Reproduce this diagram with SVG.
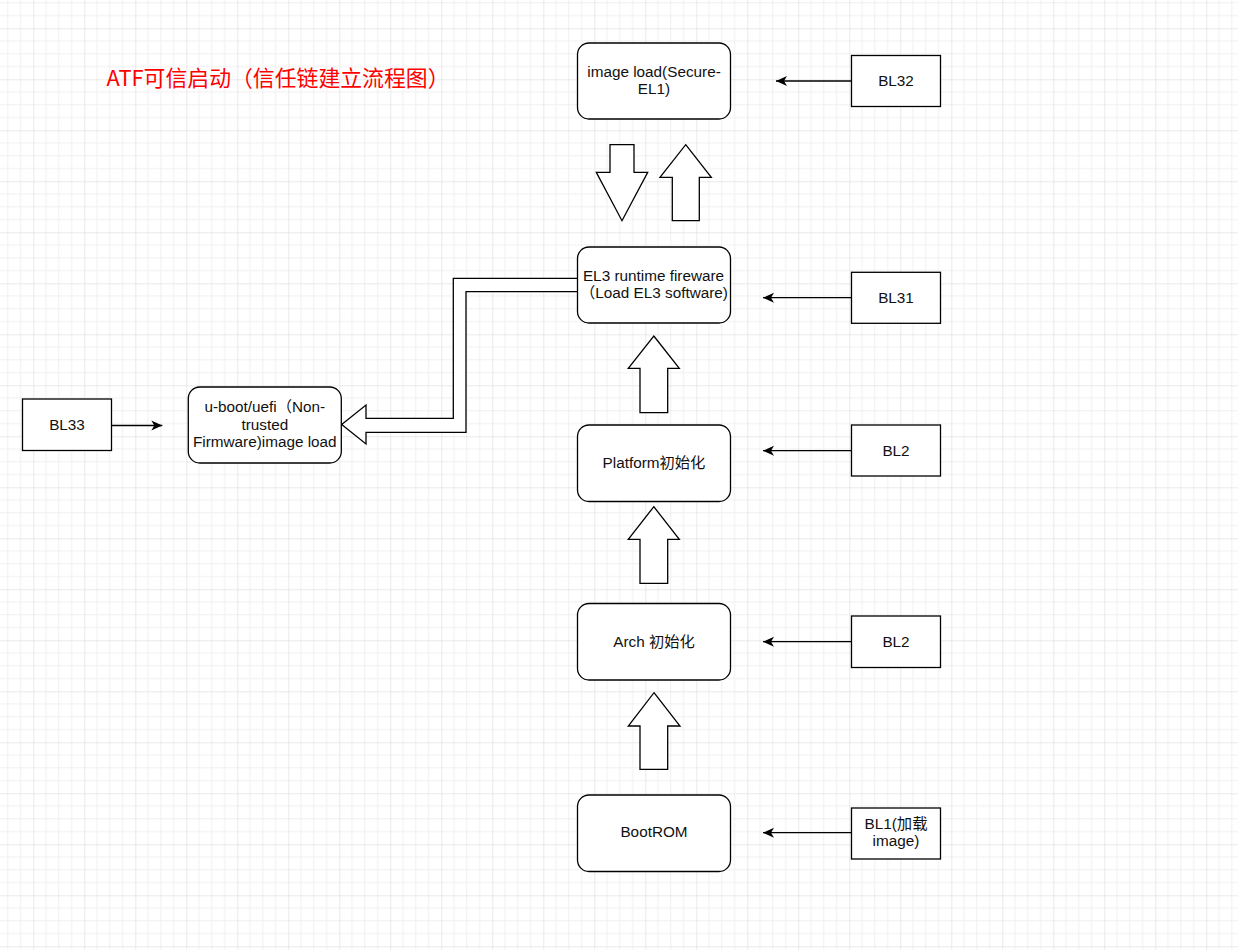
<svg xmlns="http://www.w3.org/2000/svg" width="1238" height="950" viewBox="0 0 1238 950">
  <style>
    .node { fill: #ffffff; stroke: #000000; stroke-width: 1.3; }
    .box { fill: #ffffff; stroke: #000000; stroke-width: 1.3; }
    .blk { fill: #ffffff; stroke: #000000; stroke-width: 1.3; stroke-linejoin: miter; }
    .edge { fill: none; stroke: #000000; stroke-width: 1.3; }
    .t { font-family: "Liberation Sans", "Noto Sans CJK SC", Arial, sans-serif; font-size: 15.3px; fill: #111111; text-anchor: middle; }
    .title { font-family: "Noto Sans CJK SC", "Liberation Sans", sans-serif; font-size: 22px; fill: #ff0000; }
  </style>
  <defs>
    <pattern id="grid" patternUnits="userSpaceOnUse" x="33.3" y="28.3" width="51" height="51">
      <path d="M12.75 0V51M25.5 0V51M38.25 0V51M0 12.75H51M0 25.5H51M0 38.25H51" stroke="#f0f0f0" stroke-width="1" fill="none"/>
      <path d="M0 0V51M0 0H51" stroke="#d6d6d6" stroke-width="1" fill="none"/>
    </pattern>
    <marker id="arr" markerWidth="12" markerHeight="11" refX="11" refY="5.5" orient="auto" markerUnits="userSpaceOnUse">
      <path d="M0 0.5 L11 5.5 L0 10.5 L3 5.5 Z" fill="#000000"/>
    </marker>
  </defs>
  <rect x="0" y="0" width="1238" height="950" fill="#ffffff"/>
  <rect x="0" y="0" width="1238" height="950" fill="url(#grid)"/>

  <g id="title">
    <text class="title" x="106.5" y="86" textLength="343" lengthAdjust="spacingAndGlyphs">ATF可信启动（信任链建立流程图）</text>
  </g>

  <g id="connectors">
    <line class="edge" x1="851.5" y1="81" x2="776" y2="81" marker-end="url(#arr)"/>
    <line class="edge" x1="851.5" y1="297.7" x2="763" y2="297.7" marker-end="url(#arr)"/>
    <line class="edge" x1="851.5" y1="450.7" x2="763" y2="450.7" marker-end="url(#arr)"/>
    <line class="edge" x1="851.5" y1="641.7" x2="763" y2="641.7" marker-end="url(#arr)"/>
    <line class="edge" x1="851.5" y1="832.7" x2="763" y2="832.7" marker-end="url(#arr)"/>
    <line class="edge" x1="111.7" y1="425.5" x2="162.3" y2="425.5" marker-end="url(#arr)"/>
    <path class="blk" d="M577.5 278.3 H453.3 V418.3 H366 V405 L341.7 424.5 L366 444 V432.3 H466 V291.7 H577.5"/>
    <polygon class="blk" points="610,144.7 634,144.7 634,172.3 647.7,172.3 622,220.7 596.3,172.3 610,172.3"/>
    <polygon class="blk" points="685.7,144.7 711.3,177.3 699.3,177.3 699.3,220.7 672.3,220.7 672.3,177.3 660,177.3"/>
    <polygon class="blk" points="653.8,336 679.3,368.3 667.7,368.3 667.7,412.7 640,412.7 640,368.3 628.3,368.3"/>
    <polygon class="blk" points="653.8,506.7 679.3,539.3 667.7,539.3 667.7,583.3 640,583.3 640,539.3 628.3,539.3"/>
    <polygon class="blk" points="654,692.7 680,726 667.7,726 667.7,769.3 640,769.3 640,726 628.3,726"/>
  </g>

  <g id="node-secure-el1">
    <rect class="node" x="577.5" y="43" width="153" height="76" rx="11.5" ry="11.5"/>
    <text class="t" x="654" y="76.7">image load(Secure-</text>
    <text class="t" x="654" y="94">EL1)</text>
  </g>
  <g id="node-el3">
    <rect class="node" x="577.5" y="247" width="153" height="76" rx="11.5" ry="11.5"/>
    <text class="t" x="653.5" y="280.7">EL3 runtime fireware</text>
    <text class="t" x="654" y="298.3">（Load EL3 software)</text>
  </g>
  <g id="node-platform">
    <rect class="node" x="577.5" y="425" width="153" height="76.5" rx="11.5" ry="11.5"/>
    <text class="t" x="654" y="468.3">Platform初始化</text>
  </g>
  <g id="node-arch">
    <rect class="node" x="577.5" y="603.5" width="153" height="76.5" rx="11.5" ry="11.5"/>
    <text class="t" x="654" y="646.7">Arch 初始化</text>
  </g>
  <g id="node-bootrom">
    <rect class="node" x="577.5" y="795" width="153" height="76.5" rx="11.5" ry="11.5"/>
    <text class="t" x="654" y="837">BootROM</text>
  </g>
  <g id="node-uboot">
    <rect class="node" x="188.3" y="387" width="153" height="76" rx="11.5" ry="11.5"/>
    <text class="t" x="264.8" y="412.3">u-boot/uefi（Non-</text>
    <text class="t" x="264.8" y="429.5">trusted</text>
    <text class="t" x="264.8" y="446.7">Firmware)image load</text>
  </g>

  <g id="box-bl32">
    <rect class="box" x="851.5" y="55.5" width="89" height="51"/>
    <text class="t" x="896" y="85.5">BL32</text>
  </g>
  <g id="box-bl31">
    <rect class="box" x="851.5" y="272.3" width="89" height="51"/>
    <text class="t" x="896" y="302.5">BL31</text>
  </g>
  <g id="box-bl2-platform">
    <rect class="box" x="851.5" y="425" width="89" height="51"/>
    <text class="t" x="896" y="455.5">BL2</text>
  </g>
  <g id="box-bl2-arch">
    <rect class="box" x="851.5" y="616" width="89" height="51.5"/>
    <text class="t" x="896" y="646.5">BL2</text>
  </g>
  <g id="box-bl1">
    <rect class="box" x="851.5" y="808" width="89" height="51"/>
    <text class="t" x="896" y="828.5">BL1(加载</text>
    <text class="t" x="896" y="845.8">image)</text>
  </g>
  <g id="box-bl33">
    <rect class="box" x="22.5" y="399" width="89" height="51.5"/>
    <text class="t" x="67" y="429.5">BL33</text>
  </g>
</svg>
